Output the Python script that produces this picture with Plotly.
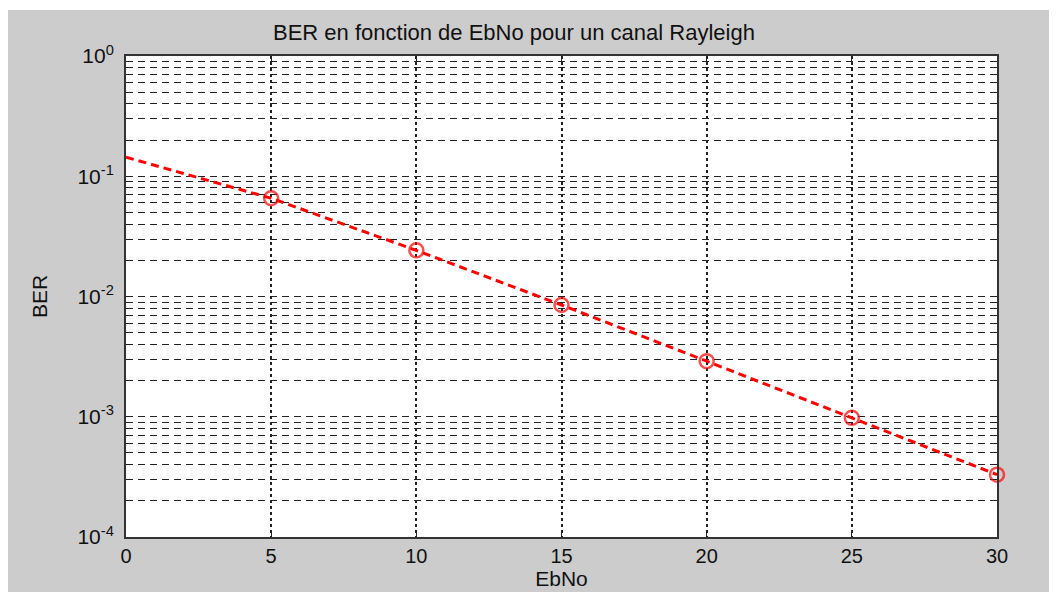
import plotly.graph_objects as go

# BER vs EbNo
ebno = [0, 5, 10, 15, 20, 25, 30]
ber = [0.144, 0.0656, 0.0242, 0.0085, 0.0029, 0.00098, 0.00033]
marker_sizes = [0, 14, 14, 14, 14, 14, 14]

y_ticks = [1e-4, 1e-3, 1e-2, 1e-1, 1]
y_labels = ['10<sup>-4</sup>', '10<sup>-3</sup>', '10<sup>-2</sup>',
            '10<sup>-1</sup>', '10<sup>0</sup>']
x_ticks = [0, 5, 10, 15, 20, 25, 30]
y_minor = [m * 10 ** e for e in range(-4, 0) for m in range(2, 10)]

fig = go.Figure()
fig.add_trace(go.Scatter(
    x=ebno,
    y=ber,
    mode='lines+markers',
    line=dict(color='#ff0000', width=3, dash='8px,5px'),
    marker=dict(symbol='circle-open', size=marker_sizes, color='#ff0000',
                line=dict(width=2.5, color='#ff0000')),
    showlegend=False,
    cliponaxis=False,
))

font = dict(family='Liberation Sans, Arial, sans-serif', color='#111111')
PH = 481  # plot height in px, used to place the title in paper units

fig.update_layout(
    width=1057,
    height=595,
    paper_bgcolor='#cccccc',
    plot_bgcolor='white',
    margin=dict(l=118, r=68, t=48, b=66),
    font=dict(size=20, **font),
    showlegend=False,
    annotations=[
        dict(text='BER en fonction de EbNo pour un canal Rayleigh',
             xref='paper', yref='paper', x=(506 - 118) / 871,
             y=1 + (48 - 25) / PH, yanchor='middle', showarrow=False,
             font=dict(size=22, **font)),
    ],
    shapes=[
        dict(type='rect', xref='paper', yref='paper', layer='above',
             x0=-0.2, x1=1.2, y0=1 + 46 / PH, y1=1.2,
             fillcolor='white', line=dict(width=0)),
        dict(type='rect', xref='paper', yref='paper', layer='above',
             x0=-0.2, x1=1.2, y0=-0.3, y1=-55 / PH,
             fillcolor='white', line=dict(width=0)),
    ],
)

fig.update_xaxes(
    range=[0, 30],
    tickvals=x_ticks,
    ticks='inside',
    ticklen=7,
    tickcolor='#222222',
    showline=True,
    linecolor='#333333',
    linewidth=2,
    mirror='ticks',
    showgrid=True,
    gridcolor='#222222',
    griddash='dot',
    gridwidth=1.5,
    zeroline=False,
    title=dict(text='EbNo', font=dict(size=21, **font), standoff=2),
    tickfont=dict(size=20, **font),
)

fig.update_yaxes(
    type='log',
    range=[-4, 0],
    tickvals=y_ticks,
    ticktext=y_labels,
    ticks='inside',
    ticklen=7,
    tickcolor='#222222',
    showline=True,
    linecolor='#333333',
    linewidth=2,
    mirror='ticks',
    showgrid=True,
    gridcolor='#222222',
    griddash='7px,5px',
    gridwidth=1.3,
    zeroline=False,
    minor=dict(tickvals=y_minor, ticks='inside', ticklen=4,
               tickcolor='#222222', showgrid=True, gridcolor='#222222',
               griddash='7px,5px', gridwidth=1.3),
    ticklabelstandoff=6,
    title=dict(text='BER', font=dict(size=21, **font), standoff=24),
    tickfont=dict(size=21, **font),
)

fig.write_html('out.html')
